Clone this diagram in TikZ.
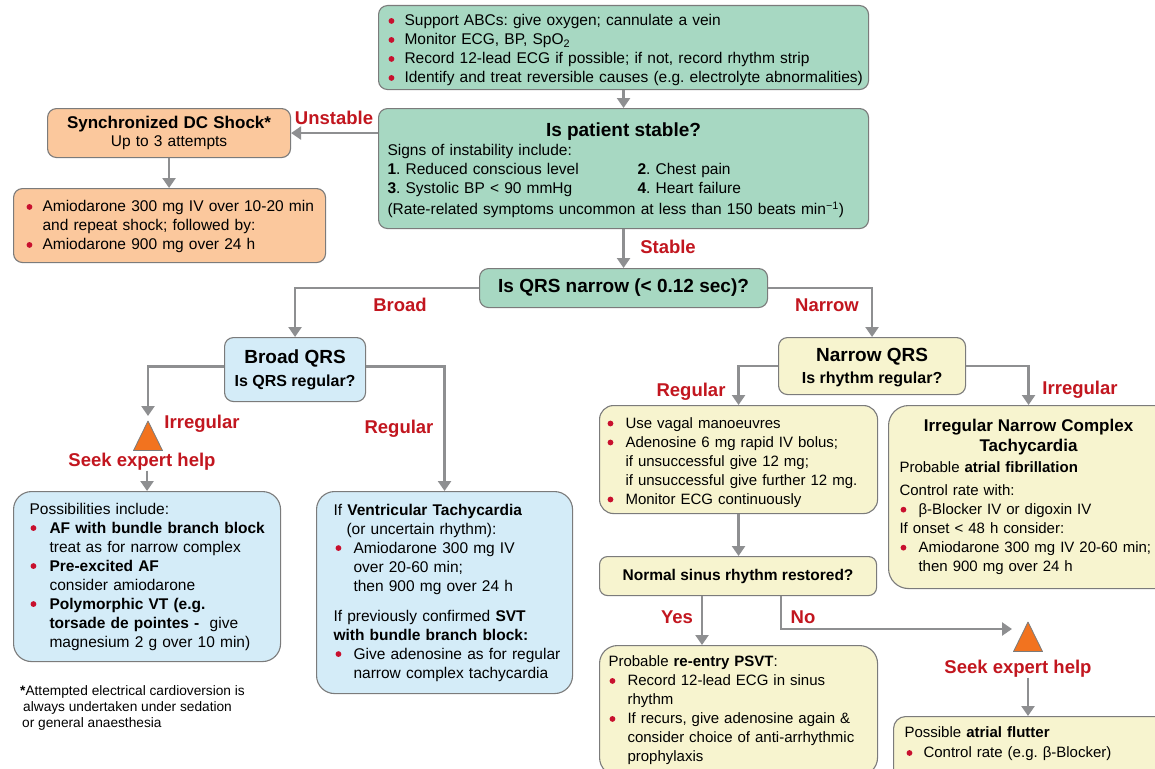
\documentclass[tikz,border=0pt]{standalone}
\usepackage{fontspec}
\setmainfont{Liberation Sans}
\usetikzlibrary{calc}
\usetikzlibrary{arrows.meta}
\usetikzlibrary{positioning}

\definecolor{stablegreen}{HTML}{A7D8C2}
\definecolor{shockorange}{HTML}{FBC89D}
\definecolor{broadblue}{HTML}{D4ECF8}
\definecolor{narrowyellow}{HTML}{F7F4CF}
\definecolor{labelred}{HTML}{C2161F}
\definecolor{bulletred}{HTML}{C8102E}
\definecolor{arrowgray}{HTML}{8E8F91}
\definecolor{boxgray}{HTML}{7B7B7B}
\definecolor{warnorange}{HTML}{F2731F}

\frenchspacing
\newcommand{\bodyfont}{\fontsize{15.5}{19}\selectfont}
\newcommand{\yfont}{\fontsize{15}{19}\selectfont}
\newcommand{\ttlfont}{\fontsize{19}{22}\selectfont\bfseries}
\newcommand{\subfont}{\fontsize{16}{19}\selectfont\bfseries}
\newcommand{\labfont}{\fontsize{18.5}{22}\selectfont\bfseries}
\newcommand{\rdot}[1][16pt]{\makebox[#1][l]{\tikz[baseline=-5pt]\fill[bulletred] (3pt,0) circle (2.9pt);}}
\newcommand{\rind}[1][16pt]{\hspace*{#1}}

\tikzset{
  flowbox/.style={draw=boxgray, line width=1.1pt, rounded corners=9pt, anchor=north west, align=left, font=\bodyfont, inner ysep=2pt},
  greenbox/.style={flowbox, fill=stablegreen},
  orangebox/.style={flowbox, fill=shockorange},
  bluebox/.style={flowbox, fill=broadblue},
  yellowbox/.style={flowbox, fill=narrowyellow, font=\yfont},
  lab/.style={text=labelred, font=\labfont, inner sep=0pt, text height=13pt, text depth=0pt},
  flow/.style={draw=arrowgray, line width=2.4pt, ->, >={Triangle[length=10pt,width=13pt]}},
  warn/.style={draw=boxgray, line width=0.8pt, fill=warnorange, line join=round}
}

\begin{document}
\begin{tikzpicture}[x=1pt, y=-1pt]
\useasboundingbox (0,0) rectangle (1155,768);
\clip (0,0) rectangle (1155,768);
\fill[white] (0,0) rectangle (1155,768);

\node[greenbox, minimum width=490pt, minimum height=84pt, text width=470pt, inner xsep=10pt] (support) at (378,5) {\rule{0pt}{17pt}\rdot\mbox{Support ABCs: give oxygen; cannulate a vein}\\
\rdot\mbox{Monitor ECG, BP, SpO\textsubscript{2}}\\
\rdot\mbox{Record 12-lead ECG if possible; if not, record rhythm strip}\\
\rdot\mbox{Identify and treat reversible causes (e.g. electrolyte abnormalities)}};

\node[greenbox, minimum width=490pt, minimum height=120pt, text width=472pt, inner xsep=9pt] (stable) at (378,108) {\rule{0pt}{17pt}\makebox[472pt][c]{\ttlfont Is patient stable?}\\[0pt]
Signs of instability include:\\
\makebox[250pt][l]{\textbf{1}. Reduced conscious level}\textbf{2}. Chest pain\\
\makebox[250pt][l]{\textbf{3}. Systolic BP < 90 mmHg}\textbf{4}. Heart failure\\[2pt]
\mbox{(Rate-related symptoms uncommon at less than 150 beats min\textsuperscript{−1})}};

\node[orangebox, minimum width=243pt, minimum height=49pt, text width=231pt, inner xsep=6pt, align=center] (shock) at (47,108) {{\fontsize{17}{20}\selectfont\bfseries Synchronized DC Shock*}\\[-1pt]Up to 3 attempts};
\node[orangebox, minimum width=312pt, minimum height=74pt, text width=286pt, inner xsep=13pt] (amio) at (13,188) {\rule{0pt}{14pt}\rdot\mbox{Amiodarone 300 mg IV over 10-20 min}\\
\rind\mbox{and repeat shock; followed by:}\\
\rdot\mbox{Amiodarone 900 mg over 24 h}};

\node[greenbox, minimum width=288pt, minimum height=39pt, align=center, font=\ttlfont] (qrs) at (479,268) {Is QRS narrow (< 0.12 sec)?};

\node[bluebox, minimum width=141pt, minimum height=64pt, align=center] (broad) at (224,337) {{\ttlfont Broad QRS}\\[4pt]{\subfont Is QRS regular?}};
\node[yellowbox, minimum width=187pt, minimum height=57pt, align=center] (narrow) at (778,337) {\rule{0pt}{17pt}{\ttlfont Narrow QRS}\\[3pt]{\subfont Is rhythm regular?}};

\node[bluebox, rounded corners=18pt, minimum width=267pt, minimum height=170pt, text width=235pt, inner xsep=16pt] (poss) at (13,491) {Possibilities include:\\
\hspace*{1pt}\rdot[19pt]\mbox{\textbf{AF with bundle branch block}}\\
\rind[20pt]treat as for narrow complex\\
\hspace*{1pt}\rdot[19pt]\textbf{Pre-excited AF}\\
\rind[20pt]consider amiodarone\\
\hspace*{1pt}\rdot[19pt]\mbox{\textbf{Polymorphic VT (e.g.}}\\
\rind[20pt]\mbox{\textbf{torsade de pointes -}\ \ give}\\
\rind[20pt]\mbox{magnesium 2 g over 10 min)}};

\node[bluebox, rounded corners=18pt, minimum width=256pt, minimum height=202pt, text width=222pt, inner xsep=17pt] (vtbox) at (316,491) {\mbox{If \textbf{Ventricular Tachycardia}}\\
\rind[13pt](or uncertain rhythm):\\
\hspace*{2pt}\rdot[18pt]Amiodarone 300 mg IV\\
\rind[20pt]over 20-60 min;\\
\rind[20pt]then 900 mg over 24 h\\[11pt]
\mbox{If previously confirmed \textbf{SVT}}\\
\mbox{\textbf{with bundle branch block:}}\\
\hspace*{2pt}\rdot[18pt]\mbox{Give adenosine as for regular}\\
\rind[20pt]\mbox{narrow complex tachycardia}};

\node[yellowbox, rounded corners=14pt, minimum width=278pt, minimum height=108pt, text width=262pt, inner xsep=8pt] (regbox) at (599,405) {\rule{0pt}{17pt}\rdot[18pt]Use vagal manoeuvres\\
\rdot[18pt]\mbox{Adenosine 6 mg rapid IV bolus;}\\
\rind[18pt]\mbox{if unsuccessful give 12 mg;}\\
\rind[18pt]\mbox{if unsuccessful give further 12 mg.}\\
\rdot[18pt]\mbox{Monitor ECG continuously}};

\node[yellowbox, rounded corners=8pt, minimum width=277pt, minimum height=39pt, align=center, font=\bodyfont\bfseries] (nsr) at (599,556) {Normal sinus rhythm restored?};

\node[yellowbox, rounded corners=20pt, minimum width=290pt, minimum height=183pt, text width=268pt, inner xsep=11pt] (irrbox) at (888,405) {\makebox[258pt][c]{\fontsize{17}{20}\selectfont\bfseries Irregular Narrow Complex}\\[1pt]
\makebox[258pt][c]{\fontsize{17}{20}\selectfont\bfseries Tachycardia}\\[2pt]
Probable \textbf{atrial fibrillation}\\[4pt]
Control rate with:\\
\hspace*{1pt}\rdot[18pt]\mbox{β-Blocker IV or digoxin IV}\\
\mbox{If onset < 48 h consider:}\\
\hspace*{1pt}\rdot[18pt]\mbox{Amiodarone 300 mg IV 20-60 min;}\\
\rind[19pt]\mbox{then 900 mg over 24 h}};

\node[yellowbox, rounded corners=18pt, minimum width=278pt, minimum height=130pt, text width=260pt, inner xsep=9pt] (psvt) at (599,645) {Probable \textbf{re-entry PSVT}:\\
\hspace*{1pt}\rdot[18pt]\mbox{Record 12-lead ECG in sinus}\\
\rind[19pt]rhythm\\
\hspace*{1pt}\rdot[18pt]\mbox{If recurs, give adenosine again \&}\\
\rind[19pt]\mbox{consider choice of anti-arrhythmic}\\
\rind[19pt]prophylaxis};

\node[yellowbox, rounded corners=12pt, minimum width=290pt, minimum height=72pt, text width=268pt, inner xsep=9pt] (flutter) at (893,716) {Possible \textbf{atrial flutter}\\[1pt]
\hspace*{2pt}\rdot[17pt]\mbox{Control rate (e.g. β-Blocker)}\\[1pt]
\mbox{}};

\node[anchor=north west, align=left, inner sep=0pt, font=\fontsize{13.7}{16}\selectfont] (fnote) at (20,685) {\textbf{*}Attempted electrical cardioversion is\\
\hspace*{3pt}always undertaken under sedation\\
\hspace*{2pt}or general anaesthesia};

\foreach \tx/\ty in {148/421, 1028/622}
  \draw[warn] (\tx,\ty) -- ++(14.5,29.5) -- ++(-29,0) -- cycle;
\coordinate (warnLtop) at (148,416);
\coordinate (warnR) at (1028,622);
\coordinate (warnRin) at (1012,629);

\node[lab] (labUnstable) at (334,118) {Unstable};
\node[lab] (labStable) at (668,247) {Stable};
\node[lab] (labBroad) at (400,305) {Broad};
\node[lab] (labNarrow) at (827,305) {Narrow};
\node[lab] (labIrrL) at (202,422) {Irregular};
\node[lab] (labRegL) at (399,427) {Regular};
\node[lab] (seekL) at (142,460) {Seek expert help};
\node[lab] (labRegR) at (691,390) {Regular};
\node[lab] (labIrrR) at (1080,388) {Irregular};
\node[lab] (labYes) at (677,617) {Yes};
\node[lab] (labNo) at (803,617) {No};
\node[lab] (seekR) at (1018,667) {Seek expert help};

\draw[flow] (support.south) -- (stable.north);
\draw[flow] (stable.west |- shock.east) -- (shock.east);
\draw[flow] (shock.south) -- (shock.south |- amio.north);
\draw[flow] (stable.south) -- (qrs.north);
\draw[flow] (qrs.west) -| (broad.north);
\draw[flow] (qrs.east) -| (narrow.north);
\draw[flow] ([yshift=3pt]broad.west) -| (warnLtop);
\draw[flow] ([yshift=3pt]broad.east) -| (vtbox.north);
\draw[flow, shorten <=4pt] (seekL.south -| poss.north) -- (poss.north);
\draw[flow] (narrow.west) -| (regbox.north);
\draw[flow] (narrow.east) -| ([xshift=-5pt]irrbox.north);
\draw[flow] (regbox.south) -- (regbox.south |- nsr.north);
\draw[flow] ([xshift=103pt]nsr.south west) -- ([xshift=103pt]psvt.north west);
\draw[flow] ([xshift=182pt]nsr.south west) |- (warnRin);
\draw[flow, shorten <=4pt] (seekR.south -| warnR) -- (warnR |- flutter.north);
\end{tikzpicture}
\end{document}
